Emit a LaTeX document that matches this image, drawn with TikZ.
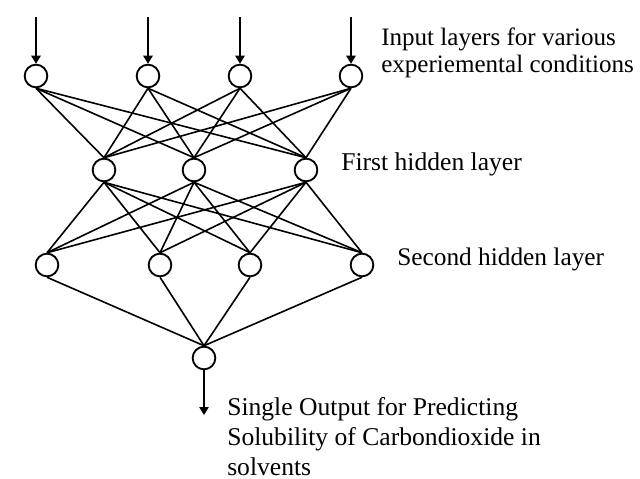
\documentclass[tikz,border=0pt]{standalone}
\usepackage{fontspec}
\setmainfont{Liberation Serif}
\usetikzlibrary{arrows.meta}
\definecolor{InkBlack}{HTML}{000000}
\definecolor{PaperWhite}{HTML}{FFFFFF}
\tikzset{
  neuron/.style={circle, draw=InkBlack, line width=1.4pt, minimum size=17pt, inner sep=0pt, fill=PaperWhite},
  link/.style={draw=InkBlack, line width=1.2pt},
  feed/.style={draw=InkBlack, line width=1.2pt, -{Triangle[length=6pt,width=7pt]}},
  caption/.style={anchor=base west, align=left, inner sep=0pt, text=InkBlack}
}

\begin{document}
\begin{tikzpicture}[x=0.75pt, y=-0.75pt]
            \useasboundingbox[fill=PaperWhite] (0,0) rectangle (640,479);

            % Input layer
            \foreach \i/\x in {1/36, 2/148, 3/240, 4/351} {
                \node[neuron] (in\i) at (\x,76) {};
                \coordinate (src\i) at (\x,17);
            }
            % First hidden layer
            \foreach \j/\x in {1/104, 2/194, 3/306} {
                \node[neuron] (ha\j) at (\x,170) {};
            }
            % Second hidden layer
            \foreach \k/\x in {1/47, 2/160, 3/250, 4/362} {
                \node[neuron] (hb\k) at (\x,265) {};
            }
            % Output
            \node[neuron] (out) at (204,358) {};
            \coordinate (sink) at (204,415);

            % Connections
            \foreach \i in {1,...,4} {
                \draw[feed] (src\i) -- (in\i);
                \foreach \j in {1,...,3} {
                    \draw[link] (in\i.south) -- (ha\j.north);
                }
            }
            \foreach \j in {1,...,3} {
                \foreach \k in {1,...,4} {
                    \draw[link] (ha\j.south) -- (hb\k.north);
                }
            }
            \foreach \k in {1,...,4} {
                \draw[link] (hb\k.south) -- (out.north);
            }
            \draw[feed] (out) -- (sink);

            % Labels (base = last line)
            \node[caption, font=\fontsize{18.8}{20.25}\selectfont] (lblin) at (381,72) {Input layers for various\\experiemental conditions};
            \node[caption, font=\fontsize{19.2}{20.25}\selectfont] (lblha) at (341,170) {First hidden layer};
            \node[caption, font=\fontsize{19}{20.25}\selectfont] (lblhb) at (397,265) {Second hidden layer};
            \node[caption, font=\fontsize{19.2}{22.5}\selectfont] (lblout) at (227,475) {Single Output for Predicting\\Solubility of Carbondioxide in\\solvents};
        \end{tikzpicture}
\end{document}
